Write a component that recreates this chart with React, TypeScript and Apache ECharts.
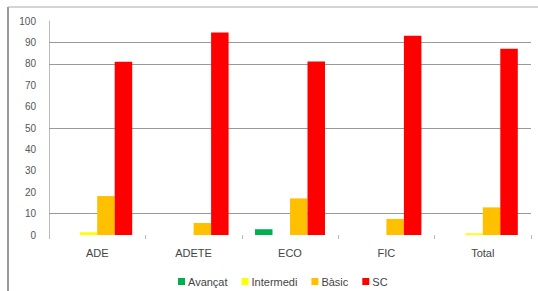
import React, { useEffect, useRef } from "react";
import * as echarts from "echarts";

const categories = ["ADE", "ADETE", "ECO", "FIC", "Total"];
const seriesNames = ["Avançat", "Intermedi", "Bàsic", "SC"];
const avancat = [0, 0, 2.7, 0, 0];
const intermedi = [1.3, 0, 0, 0, 0.8];
const basic = [18.2, 5.6, 17.1, 7.5, 12.9];
const sc = [81, 94.6, 81.1, 93.1, 87];
const gridLines = [10, 50, 80, 90];
const colors = ["#00B050", "#FFFF00", "#FFC000", "#FF0000"];

export default function App() {
  const ref = useRef<HTMLDivElement>(null);
  useEffect(() => {
    document.body.style.margin = "0";
    const chart = echarts.init(ref.current!, null, { renderer: "svg" });
    const values = [avancat, intermedi, basic, sc];
    const bars: any[] = seriesNames.map((name, i) => ({
      name,
      type: "bar",
      data: values[i],
      barWidth: 17.5,
      barGap: "0%",
      itemStyle: { color: colors[i] },
      z: 5,
    }));
    bars.push({
      name: "grid",
      type: "line",
      data: [],
      z: 1,
      silent: true,
      markLine: {
        silent: true,
        symbol: "none",
        label: { show: false },
        lineStyle: { color: "#999", type: "solid", width: 1 },
        data: gridLines.map((v) => ({ yAxis: v })),
      },
    });
    chart.setOption({
      animation: false,
      backgroundColor: "#ffffff",
      textStyle: { fontFamily: "Liberation Sans" },
      grid: { left: 49, right: 7, top: 21, bottom: 56 },
      legend: {
        left: 173,
        top: 271,
        itemWidth: 7,
        itemHeight: 7,
        itemGap: 14,
        icon: "rect",
        textStyle: { fontSize: 11, color: "#444", padding: [0, 0, 0, -2] },
        data: seriesNames,
      },
      xAxis: {
        type: "category",
        data: categories,
        axisLine: { show: false },
        axisTick: { show: true, length: 4, lineStyle: { color: "#bbb" } },
        axisLabel: { fontSize: 11, color: "#444", margin: 12 },
      },
      yAxis: {
        type: "value",
        min: 0,
        max: 100,
        interval: 10,
        axisLine: { show: true, lineStyle: { color: "#bbb" } },
        axisTick: { show: false },
        splitLine: { show: false },
        axisLabel: { fontSize: 10, color: "#555", margin: 13 },
      },
      graphic: [
        { type: "line", shape: { x1: 8, y1: 7, x2: 8, y2: 291 }, style: { stroke: "#999", lineWidth: 2 } },
        { type: "line", shape: { x1: 8, y1: 7, x2: 538, y2: 7 }, style: { stroke: "#aaa", lineWidth: 1 } },
      ],
      series: bars,
    });
    return () => chart.dispose();
  }, []);
  return <div ref={ref} style={{ width: 538, height: 291 }} />;
}
